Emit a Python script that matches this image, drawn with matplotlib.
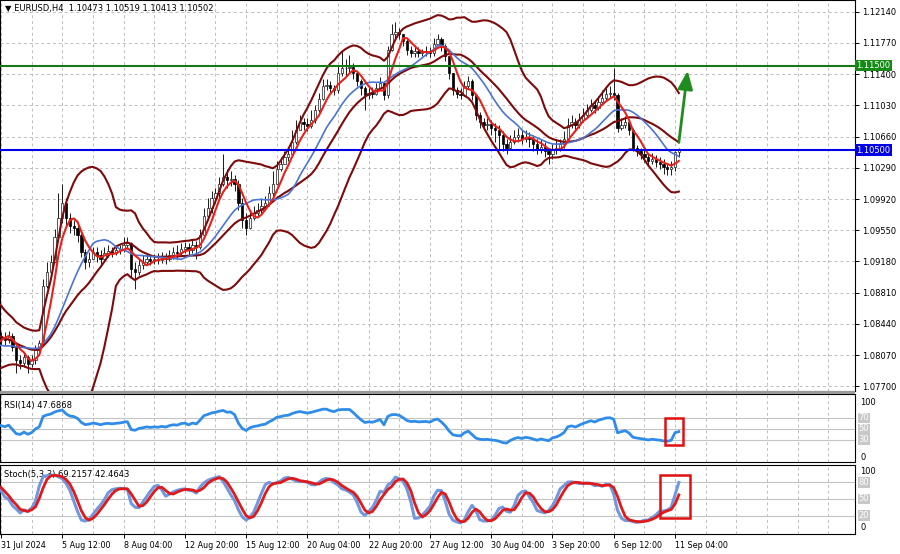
import numpy as np
import pandas as pd
import matplotlib
matplotlib.use("Agg")
import matplotlib.pyplot as plt
from matplotlib.patches import Rectangle
from matplotlib.transforms import blended_transform_factory

# ---------------- data ----------------
symbol = "EURUSD,H4"
warm_open = 1.0862
warm_close = [1.0860, 1.0865, 1.0858, 1.0852, 1.0856, 1.0845, 1.0840, 1.0835, 1.0828, 1.0820,
              1.0813, 1.0806, 1.0810, 1.0803, 1.0808, 1.0815, 1.0810, 1.0818, 1.0836, 1.0830]
warm_high = [1.0866, 1.0870, 1.0866, 1.0860, 1.0861, 1.0857, 1.0848, 1.0843, 1.0837, 1.0830,
             1.0823, 1.0816, 1.0815, 1.0812, 1.0812, 1.0819, 1.0818, 1.0822, 1.0846, 1.0840]
warm_low = [1.0853, 1.0857, 1.0854, 1.0847, 1.0849, 1.0841, 1.0836, 1.0830, 1.0822, 1.0815,
            1.0808, 1.0801, 1.0803, 1.0798, 1.0801, 1.0806, 1.0806, 1.0808, 1.0815, 1.0826]

close = [
    1.0828, 1.0825, 1.0830, 1.0817, 1.0801, 1.0798, 1.0805, 1.0796, 1.0801, 1.0813,
    1.0821, 1.0889, 1.0906, 1.0917, 1.0947, 1.0970, 1.0987, 1.0970, 1.0960, 1.0958,
    1.0949, 1.0929, 1.0917, 1.0921, 1.0929, 1.0926, 1.0921, 1.0928, 1.0930, 1.0928,
    1.0931, 1.0933, 1.0937, 1.0940, 1.0909, 1.0906, 1.0914, 1.0917, 1.0921, 1.0919,
    1.0921, 1.0920, 1.0923, 1.0921, 1.0926, 1.0929, 1.0928, 1.0933, 1.0935, 1.0931,
    1.0937, 1.0935, 1.0949, 1.0972, 1.0981, 1.0993, 1.0999, 1.1010, 1.1018, 1.1014,
    1.1016, 1.1010, 1.0987, 1.0967, 1.0958, 1.0970, 1.0976, 1.0979, 1.0984, 1.0987,
    1.0999, 1.1010, 1.1028, 1.1034, 1.1042, 1.1045, 1.1060, 1.1074, 1.1083, 1.1081,
    1.1079, 1.1086, 1.1097, 1.1111, 1.1126, 1.1127, 1.1123, 1.1121, 1.1141, 1.1147,
    1.1147, 1.1148, 1.1141, 1.1132, 1.1123, 1.1115, 1.1118, 1.1117, 1.1123, 1.1130,
    1.1115, 1.1169, 1.1188, 1.1190, 1.1187, 1.1179, 1.1169, 1.1165, 1.1167, 1.1165,
    1.1166, 1.1167, 1.1165, 1.1176, 1.1181, 1.1173, 1.1161, 1.1141, 1.1121, 1.1117,
    1.1115, 1.1126, 1.1132, 1.1115, 1.1092, 1.1083, 1.1080, 1.1081, 1.1076, 1.1074,
    1.1068, 1.1057, 1.1053, 1.1060, 1.1065, 1.1068, 1.1063, 1.1066, 1.1063, 1.1057,
    1.1051, 1.1054, 1.1049, 1.1045, 1.1051, 1.1053, 1.1057, 1.1063, 1.1080, 1.1083,
    1.1080, 1.1086, 1.1092, 1.1097, 1.1103, 1.1100, 1.1107, 1.1112, 1.1117, 1.1118,
    1.1115, 1.1076, 1.1080, 1.1083, 1.1074, 1.1053, 1.1049, 1.1045, 1.1042, 1.1037,
    1.1039, 1.1036, 1.1034, 1.1030, 1.1028, 1.1030, 1.10473, 1.10502]
high = [
    1.0835, 1.0834, 1.0836, 1.0833, 1.0819, 1.0807, 1.0810, 1.0807, 1.0807, 1.0819,
    1.0825, 1.0897, 1.0917, 1.0926, 1.0956, 1.0999, 1.1010, 1.0993, 1.0976, 1.0967,
    1.0964, 1.0952, 1.0933, 1.0929, 1.0935, 1.0935, 1.0931, 1.0935, 1.0937, 1.0935,
    1.0937, 1.0938, 1.0947, 1.0947, 1.0941, 1.0917, 1.0921, 1.0926, 1.0927, 1.0926,
    1.0927, 1.0928, 1.0929, 1.0928, 1.0931, 1.0935, 1.0937, 1.0940, 1.0941, 1.0940,
    1.0944, 1.0942, 1.0956, 1.0981, 1.0993, 1.1002, 1.1005, 1.1018, 1.1045, 1.1028,
    1.1025, 1.1021, 1.1014, 1.0993, 1.0976, 1.0979, 1.0984, 1.0987, 1.0993, 1.0995,
    1.1007, 1.1025, 1.1037, 1.1042, 1.1049, 1.1051, 1.1074, 1.1086, 1.1092, 1.1088,
    1.1088, 1.1097, 1.1103, 1.1118, 1.1134, 1.1134, 1.1132, 1.1127, 1.1150, 1.1167,
    1.1158, 1.1163, 1.1153, 1.1144, 1.1134, 1.1126, 1.1126, 1.1125, 1.1130, 1.1137,
    1.1132, 1.1173, 1.1199, 1.1202, 1.1195, 1.1188, 1.1181, 1.1173, 1.1174, 1.1172,
    1.1170, 1.1173, 1.1172, 1.1183, 1.1187, 1.1184, 1.1176, 1.1161, 1.1141, 1.1125,
    1.1123, 1.1132, 1.1138, 1.1134, 1.1117, 1.1095, 1.1088, 1.1088, 1.1086, 1.1082,
    1.1080, 1.1072, 1.1063, 1.1068, 1.1074, 1.1076, 1.1074, 1.1074, 1.1071, 1.1068,
    1.1063, 1.1063, 1.1060, 1.1053, 1.1057, 1.1063, 1.1063, 1.1072, 1.1088, 1.1092,
    1.1088, 1.1094, 1.1100, 1.1105, 1.1111, 1.1109, 1.1114, 1.1121, 1.1123, 1.1126,
    1.1147, 1.1118, 1.1088, 1.1090, 1.1086, 1.1076, 1.1056, 1.1053, 1.1051, 1.1045,
    1.1046, 1.1044, 1.1042, 1.1039, 1.1035, 1.1037, 1.1049, 1.10519]
low = [
    1.0819, 1.0819, 1.0821, 1.0812, 1.0786, 1.0790, 1.0793, 1.0786, 1.0793, 1.0796,
    1.0807, 1.0819, 1.0886, 1.0900, 1.0917, 1.0947, 1.0964, 1.0960, 1.0952, 1.0949,
    1.0941, 1.0923, 1.0909, 1.0912, 1.0921, 1.0917, 1.0914, 1.0919, 1.0923, 1.0923,
    1.0926, 1.0927, 1.0929, 1.0933, 1.0900, 1.0885, 1.0902, 1.0909, 1.0914, 1.0914,
    1.0915, 1.0915, 1.0916, 1.0915, 1.0919, 1.0921, 1.0921, 1.0926, 1.0928, 1.0926,
    1.0928, 1.0921, 1.0933, 1.0947, 1.0967, 1.0976, 1.0987, 1.0993, 1.1007, 1.1005,
    1.1007, 1.1002, 1.0979, 1.0958, 1.0949, 1.0956, 1.0967, 1.0972, 1.0976, 1.0979,
    1.0984, 1.0995, 1.1016, 1.1025, 1.1034, 1.1037, 1.1042, 1.1057, 1.1074, 1.1074,
    1.1072, 1.1076, 1.1082, 1.1095, 1.1109, 1.1121, 1.1117, 1.1115, 1.1118, 1.1138,
    1.1138, 1.1141, 1.1134, 1.1126, 1.1115, 1.1097, 1.1111, 1.1112, 1.1115, 1.1121,
    1.1109, 1.1112, 1.1167, 1.1182, 1.1181, 1.1173, 1.1163, 1.1160, 1.1160, 1.1160,
    1.1161, 1.1161, 1.1160, 1.1162, 1.1173, 1.1167, 1.1155, 1.1134, 1.1115, 1.1112,
    1.1111, 1.1114, 1.1123, 1.1109, 1.1086, 1.1076, 1.1074, 1.1074, 1.1068, 1.1059,
    1.1051, 1.1049, 1.1045, 1.1051, 1.1057, 1.1060, 1.1057, 1.1059, 1.1054, 1.1049,
    1.1045, 1.1047, 1.1042, 1.1034, 1.1039, 1.1045, 1.1049, 1.1053, 1.1060, 1.1076,
    1.1074, 1.1076, 1.1083, 1.1088, 1.1095, 1.1094, 1.1097, 1.1104, 1.1109, 1.1112,
    1.1109, 1.1071, 1.1074, 1.1076, 1.1068, 1.1049, 1.1043, 1.1039, 1.1036, 1.1031,
    1.1034, 1.1030, 1.1028, 1.1022, 1.1020, 1.1021, 1.1025, 1.10413]

time_labels = ["31 Jul 2024", "5 Aug 12:00", "8 Aug 04:00", "12 Aug 20:00", "15 Aug 12:00",
               "20 Aug 04:00", "22 Aug 20:00", "27 Aug 12:00", "30 Aug 04:00", "3 Sep 20:00",
               "6 Sep 12:00", "11 Sep 04:00"]
bars_per_label = 16
price_ticks = [1.12140, 1.11770, 1.11400, 1.11030, 1.10660, 1.10290, 1.09920,
               1.09550, 1.09180, 1.08810, 1.08440, 1.08070, 1.07700]
resistance = 1.11500
support = 1.10500
rsi_levels = [70, 50, 30]
sto_levels = [80, 50, 20]
rsi_text = "RSI(14) 47.6868"
sto_text = "Stoch(5,3,3) 69.2157 42.4643"

# ---------------- series ----------------
c_all = np.array(warm_close + close)
h_all = np.array(warm_high + high)
l_all = np.array(warm_low + low)
o_all = np.concatenate([[warm_open], c_all[:-1]])
h_all = np.maximum(h_all, np.maximum(o_all, c_all))
l_all = np.minimum(l_all, np.minimum(o_all, c_all))
nw = len(warm_close)
xi = np.arange(len(c_all)) - nw

cs = pd.Series(c_all)
mid = cs.rolling(20).mean()
sd = cs.rolling(20).std(ddof=0)
upper = mid + 2 * sd
lower = mid - 2 * sd
ma_fast = cs.rolling(5).mean()
ma_slow = cs.rolling(14).mean()

diff = cs.diff()
gain = diff.clip(lower=0).ewm(alpha=1 / 14, adjust=False).mean()
loss = (-diff.clip(upper=0)).ewm(alpha=1 / 14, adjust=False).mean()
rsi = 100 - 100 / (1 + gain / loss)

hs, ls = pd.Series(h_all), pd.Series(l_all)
ll5 = ls.rolling(5).min()
hh5 = hs.rolling(5).max()
stk = (cs - ll5).rolling(3).sum() / (hh5 - ll5).rolling(3).sum() * 100
std_ = stk.rolling(3).mean()

# ---------------- figure ----------------
W, H = 900, 554
fig = plt.figure(figsize=(W / 100, H / 100), dpi=100)
fig.patch.set_facecolor("white")


def rect(x0, y0, x1, y1):
    return [x0 / W, 1 - y1 / H, (x1 - x0) / W, (y1 - y0) / H]


ax = fig.add_axes(rect(0, 0, 855, 391))
ax_r = fig.add_axes(rect(0, 394, 855, 462), sharex=ax)
ax_s = fig.add_axes(rect(0, 465, 855, 534), sharex=ax)

fig.patches.append(Rectangle((0, 1 - 394 / H), 855 / W, 3 / H, transform=fig.transFigure,
                             facecolor="#9a9a9a", edgecolor="none"))

xlim = (-0.26, 223.0)
grid_kw = dict(color="#bdbdbd", linestyle=(0, (3, 3)), linewidth=0.7, zorder=0)

for a in (ax, ax_r, ax_s):
    a.set_xlim(*xlim)
    for sp in a.spines.values():
        sp.set_color("black")
        sp.set_linewidth(0.8)
    for gx in range(0, 224, 8):
        a.axvline(gx, **grid_kw)
    a.tick_params(axis="x", which="both", bottom=False, labelbottom=False)
    a.yaxis.set_ticks_position("right")

# ---- main panel ----
ax.set_ylim(1.07645, 1.12278)
for p in price_ticks:
    ax.axhline(p, **grid_kw)
ax.set_yticks(price_ticks)
ax.set_yticklabels([f"{p:.5f}" for p in price_ticks])
ax.tick_params(axis="y", direction="out", length=3, width=0.7, pad=2, labelsize=6,
               colors="black")

# candles
ax.vlines(xi, l_all, h_all, color="#1a1a1a", linewidth=0.7, zorder=2)
body_lo = np.minimum(o_all, c_all)
body_h = np.maximum(np.abs(c_all - o_all), 0.00003)
bull = c_all >= o_all
ax.bar(xi[bull], body_h[bull], bottom=body_lo[bull], width=0.6, facecolor="white",
       edgecolor="#1a1a1a", linewidth=0.5, zorder=3)
ax.bar(xi[~bull], body_h[~bull], bottom=body_lo[~bull], width=0.6, facecolor="black",
       edgecolor="black", linewidth=0.5, zorder=3)

bb_col = "#7d0b0b"
for s in (upper, mid, lower):
    ax.plot(xi, s, color=bb_col, linewidth=1.5, zorder=4)
ax.plot(xi, ma_slow, color="#4a74d6", linewidth=1.2, zorder=5)
ax.plot(xi, ma_fast, color="#e8201a", linewidth=1.5, zorder=6)

ax.axhline(resistance, color="#157a15", linewidth=1.5, zorder=7)
ax.axhline(support, color="#0000e6", linewidth=1.5, zorder=7)

tr = blended_transform_factory(ax.transAxes, ax.transData)
ax.text(1.0015, resistance, f"{resistance:.5f}", transform=tr, fontsize=6, color="white",
        va="center", ha="left", zorder=10, clip_on=False,
        bbox=dict(boxstyle="square,pad=0.15", facecolor="#158a15", edgecolor="none"))
ax.text(1.0015, support, f"{support:.5f}", transform=tr, fontsize=6, color="white",
        va="center", ha="left", zorder=10, clip_on=False,
        bbox=dict(boxstyle="square,pad=0.15", facecolor="#0000e6", edgecolor="none"))

last = xi[-1]
ax.annotate("", xy=(last + 2.3, resistance - 0.0006), xytext=(last, mid.iloc[-1]),
            arrowprops=dict(arrowstyle="-|>,head_length=1.1,head_width=0.45",
                            color="#1f8c1f", linewidth=2.0, shrinkA=0, shrinkB=0),
            zorder=9)

ax.text(0.006, 0.977, "\u25bc " + f"{symbol}  {o_all[-1]:.5f} {h_all[-1]:.5f} "
        f"{l_all[-1]:.5f} {c_all[-1]:.5f}", transform=ax.transAxes, fontsize=6,
        va="center", ha="left", zorder=10)

# ---- RSI panel ----
ax_r.set_ylim(-10.7, 114)
for lv in rsi_levels:
    ax_r.axhline(lv, color="#c4c4c4", linewidth=0.8, zorder=1)
ax_r.set_yticks([100, 0])
ax_r.set_yticklabels(["100", "0"])
ax_r.tick_params(axis="y", length=0, pad=4, labelsize=6)
trr = blended_transform_factory(ax_r.transAxes, ax_r.transData)
for lv in rsi_levels:
    ax_r.text(1.004, lv, str(lv), transform=trr, fontsize=6, color="white", va="center",
              ha="left", clip_on=False,
              bbox=dict(boxstyle="square,pad=0.1", facecolor="#c8c8c8", edgecolor="none"))
ax_r.plot(xi, rsi, color="#2f8ce8", linewidth=2.0, zorder=4)
ax_r.text(0.005, 0.83, rsi_text, transform=ax_r.transAxes, fontsize=6, va="center",
          ha="left", zorder=2)
ax_r.add_patch(Rectangle((last - 3.5, 21), 4.6, 49, facecolor="none", edgecolor="#e01010",
                         linewidth=1.8, zorder=8))

# ---- Stochastic panel ----
ax_s.set_ylim(-12.5, 110.7)
for lv in sto_levels:
    ax_s.axhline(lv, color="#c4c4c4", linewidth=0.8, zorder=1)
ax_s.set_yticks([100, 0])
ax_s.set_yticklabels(["100", "0"])
ax_s.tick_params(axis="y", length=0, pad=4, labelsize=6)
trs = blended_transform_factory(ax_s.transAxes, ax_s.transData)
for lv in sto_levels:
    ax_s.text(1.004, lv, str(lv), transform=trs, fontsize=6, color="white", va="center",
              ha="left", clip_on=False,
              bbox=dict(boxstyle="square,pad=0.1", facecolor="#c8c8c8", edgecolor="none"))
ax_s.text(0.005, 0.86, sto_text, transform=ax_s.transAxes, fontsize=6, va="center",
          ha="left", zorder=2)
ax_s.plot(xi, stk, color="#6e98e0", linewidth=2.2, zorder=4)
ax_s.plot(xi, std_, color="#e01a1a", linewidth=2.0, zorder=5)
ax_s.add_patch(Rectangle((last - 4.8, 16), 7.8, 77, facecolor="none", edgecolor="#e01010",
                         linewidth=1.8, zorder=8))

tick_pos = [k * bars_per_label for k in range(len(time_labels))]
ax_s.set_xticks(tick_pos)
ax_s.set_xticklabels(time_labels)
ax_s.tick_params(axis="x", bottom=True, labelbottom=True, length=3, width=0.7,
                 labelsize=5.8, pad=2, direction="out")
for t in ax_s.get_xticklabels():
    t.set_ha("left")

fig.savefig("out.png", dpi=100, facecolor="white")
